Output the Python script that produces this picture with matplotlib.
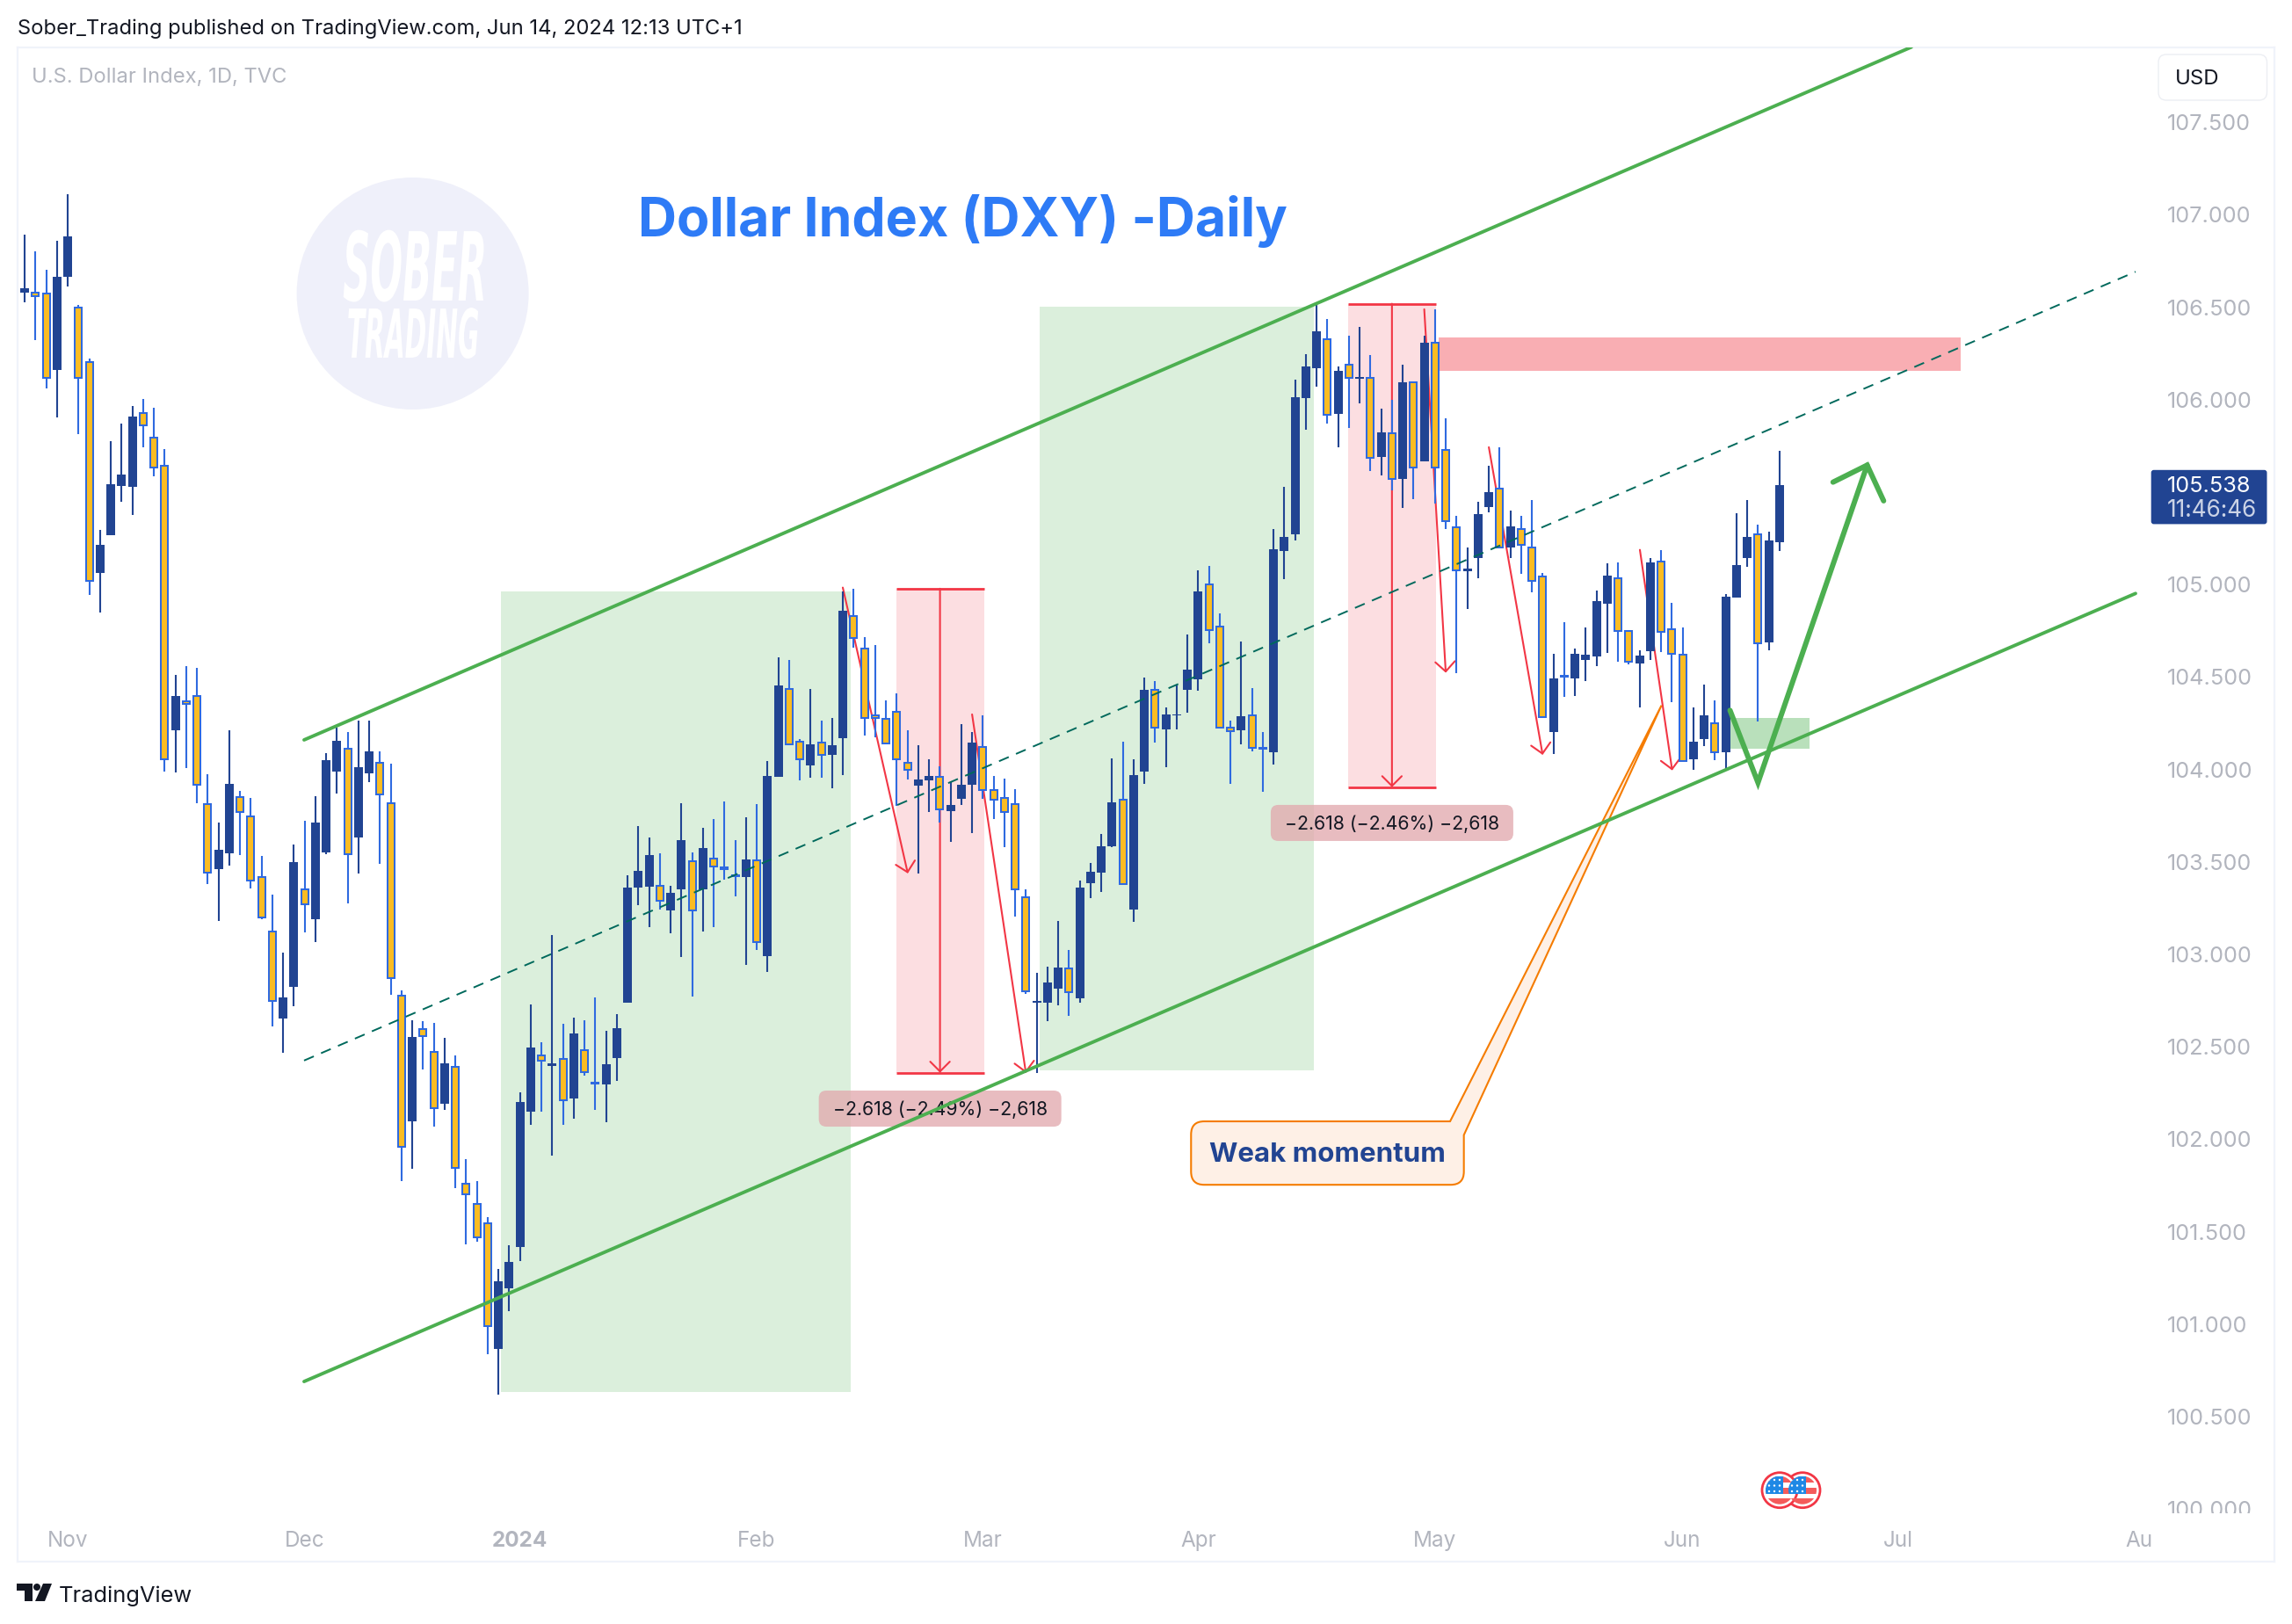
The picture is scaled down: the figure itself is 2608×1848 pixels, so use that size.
import matplotlib
matplotlib.use('Agg')
import matplotlib.pyplot as plt
from matplotlib.patches import Circle, FancyBboxPatch, PathPatch, Polygon, Rectangle
from matplotlib.patheffects import AbstractPathEffect
from matplotlib.path import Path
from matplotlib.transforms import Affine2D, Bbox

W, H = 2608, 1848

opens = [106.578, 106.581, 106.575, 106.160, 106.666, 106.499, 106.202, 105.062, 105.269, 105.532,
         105.529, 105.929, 105.796, 105.644, 104.214, 104.368, 104.396, 103.814, 103.462, 103.547,
         103.853, 103.747, 103.417, 103.126, 102.653, 102.825, 103.353, 103.189, 103.553, 103.990,
         104.114, 103.632, 103.980, 104.035, 103.820, 102.776, 102.098, 102.595, 102.471, 102.194,
         102.393, 101.761, 101.649, 101.545, 100.865, 101.194, 101.419, 102.150, 102.454, 102.395,
         102.436, 102.220, 102.481, 102.306, 102.297, 102.438, 102.738, 103.361, 103.366, 103.371,
         103.239, 103.352, 103.505, 103.352, 103.516, 103.471, 103.430, 103.418, 103.509, 102.993,
         103.961, 104.434, 104.149, 104.023, 104.145, 104.080, 104.170, 104.830, 104.655, 104.295,
         104.275, 104.314, 104.034, 103.914, 103.942, 103.962, 103.774, 103.841, 103.918, 104.123,
         103.887, 103.847, 103.814, 103.310, 102.740, 102.740, 102.815, 102.925, 102.764, 103.386,
         103.443, 103.585, 103.837, 103.242, 103.989, 104.429, 104.218, 104.295, 104.430, 104.486,
         105.002, 104.771, 104.226, 104.210, 104.291, 104.119, 104.094, 105.181, 105.272, 106.009,
         106.170, 106.326, 105.924, 106.190, 106.115, 106.119, 105.692, 105.820, 105.571, 106.092,
         105.666, 106.310, 105.729, 105.311, 105.073, 105.142, 105.420, 105.520, 105.201, 105.302,
         105.201, 105.045, 104.202, 104.506, 104.494, 104.592, 104.612, 104.898, 105.032, 104.747,
         104.574, 104.640, 105.127, 104.761, 104.623, 104.053, 104.165, 104.252, 104.091, 104.930,
         105.144, 105.274, 104.688, 105.230]
highs = [106.893, 106.802, 106.702, 106.860, 107.111, 106.514, 106.223, 105.296, 105.775, 105.872,
         105.966, 106.005, 105.957, 105.732, 104.511, 104.559, 104.550, 103.974, 103.714, 104.214,
         103.883, 103.847, 103.532, 103.323, 103.011, 103.595, 103.723, 103.856, 104.090, 104.226,
         104.202, 104.265, 104.265, 104.098, 104.032, 102.804, 102.644, 102.639, 102.630, 102.550,
         102.454, 101.895, 101.772, 101.579, 101.299, 101.426, 102.254, 102.729, 102.527, 103.105,
         102.625, 102.657, 102.643, 102.768, 102.588, 102.677, 103.427, 103.694, 103.632, 103.548,
         103.371, 103.819, 103.550, 103.684, 103.732, 103.828, 103.618, 103.741, 103.814, 104.046,
         104.607, 104.593, 104.165, 104.436, 104.265, 104.279, 104.963, 104.978, 104.714, 104.673,
         104.373, 104.411, 104.212, 104.131, 104.056, 104.017, 103.934, 104.245, 104.204, 104.293,
         103.966, 103.952, 103.895, 103.353, 102.902, 102.933, 103.181, 103.024, 103.398, 103.495,
         103.652, 104.060, 104.151, 104.056, 104.498, 104.478, 104.336, 104.454, 104.730, 105.077,
         105.101, 104.842, 104.265, 104.692, 104.440, 104.204, 105.302, 105.530, 106.109, 106.247,
         106.513, 106.436, 106.178, 106.346, 106.395, 106.241, 105.952, 106.001, 106.190, 106.096,
         106.346, 106.490, 105.900, 105.371, 105.201, 105.449, 105.642, 105.743, 105.400, 105.371,
         105.455, 105.061, 104.626, 104.795, 104.652, 104.770, 104.967, 105.116, 105.120, 104.755,
         104.645, 105.144, 105.187, 104.902, 104.769, 104.336, 104.460, 104.374, 104.949, 105.387,
         105.458, 105.325, 105.287, 105.724]
lows = [106.527, 106.323, 106.063, 105.905, 106.611, 105.814, 104.944, 104.850, 105.269, 105.447,
        105.378, 105.741, 105.587, 103.989, 103.983, 104.008, 103.817, 103.380, 103.180, 103.480,
        103.538, 103.356, 103.189, 102.611, 102.468, 102.720, 103.120, 103.068, 103.544, 103.871,
        103.277, 103.438, 103.932, 103.489, 102.783, 101.775, 101.841, 102.378, 102.069, 102.160,
        101.738, 101.431, 101.447, 100.837, 100.621, 101.069, 101.340, 102.079, 102.150, 101.911,
        102.079, 102.111, 102.345, 102.159, 102.093, 102.315, 102.738, 103.266, 103.148, 103.241,
        103.114, 102.986, 102.773, 103.123, 103.148, 103.405, 103.314, 102.943, 103.025, 102.904,
        103.961, 104.138, 103.942, 103.956, 103.956, 103.899, 103.970, 104.661, 104.184, 104.172,
        104.141, 103.802, 103.946, 103.438, 103.771, 103.713, 103.609, 103.808, 103.656, 103.841,
        103.733, 103.581, 103.205, 102.787, 102.360, 102.640, 102.724, 102.667, 102.740, 103.306,
        103.339, 103.581, 103.379, 103.176, 103.922, 104.147, 104.013, 104.218, 104.308, 104.427,
        104.685, 104.226, 103.920, 104.137, 104.100, 103.881, 104.027, 105.030, 105.239, 105.837,
        106.072, 105.871, 105.743, 105.847, 105.981, 105.615, 105.591, 105.508, 105.416, 105.463,
        105.666, 105.436, 105.302, 104.523, 104.868, 105.036, 105.392, 105.203, 105.144, 105.059,
        104.959, 104.283, 104.084, 104.393, 104.399, 104.478, 104.561, 104.628, 104.583, 104.569,
        104.336, 104.593, 104.636, 104.365, 104.045, 103.996, 104.127, 104.051, 104.004, 104.930,
        105.097, 104.262, 104.645, 105.182]
closes = [106.602, 106.560, 106.120, 106.666, 106.884, 106.120, 105.020, 105.214, 105.544, 105.596,
          105.908, 105.860, 105.632, 104.053, 104.399, 104.356, 103.917, 103.441, 103.565, 103.923,
          103.768, 103.401, 103.198, 102.747, 102.765, 103.498, 103.271, 103.714, 104.050, 104.156,
          103.541, 104.014, 104.098, 103.865, 102.871, 101.958, 102.554, 102.560, 102.167, 102.411,
          101.845, 101.701, 101.470, 100.990, 101.231, 101.335, 102.202, 102.497, 102.425, 102.413,
          102.209, 102.572, 102.361, 102.302, 102.404, 102.602, 103.361, 103.452, 103.537, 103.289,
          103.332, 103.618, 103.236, 103.575, 103.475, 103.462, 103.421, 103.514, 103.066, 103.966,
          104.455, 104.138, 104.053, 104.137, 104.081, 104.132, 104.859, 104.710, 104.279, 104.279,
          104.141, 104.054, 103.997, 103.946, 103.966, 103.782, 103.808, 103.918, 104.147, 103.889,
          103.836, 103.771, 103.351, 102.799, 102.748, 102.850, 102.927, 102.795, 103.363, 103.447,
          103.585, 103.824, 103.379, 103.970, 104.430, 104.226, 104.298, 104.300, 104.541, 104.964,
          104.753, 104.226, 104.206, 104.289, 104.119, 104.111, 105.189, 105.258, 106.015, 106.180,
          106.369, 105.918, 106.157, 106.117, 106.121, 105.686, 105.824, 105.571, 106.096, 105.633,
          106.308, 105.633, 105.343, 105.077, 105.085, 105.380, 105.499, 105.203, 105.315, 105.217,
          105.020, 104.283, 104.494, 104.500, 104.626, 104.622, 104.912, 105.050, 104.748, 104.582,
          104.617, 105.120, 104.744, 104.625, 104.045, 104.149, 104.294, 104.092, 104.935, 105.106,
          105.258, 104.685, 105.239, 105.538]

price_ticks = [100.0, 100.5, 101.0, 101.5, 102.0, 102.5, 103.0, 103.5, 104.0, 104.5, 105.0,
               106.0, 106.5, 107.0, 107.5]
month_pos = [4, 26, 46, 68, 89, 109, 131, 154, 174, 197]
month_labels = ['Nov', 'Dec', '2024', 'Feb', 'Mar', 'Apr', 'May', 'Jun', 'Jul', 'Aug']

# drawings on the chart, (bar, price)
channel_top = [(25.95, 104.160), (175.25, 107.907)]
channel_mid = [(25.95, 102.426), (196.07, 106.692)]
channel_low = [(25.95, 100.690), (196.07, 104.952)]
red_arrows = [((75.99, 104.984), (82.03, 103.438)), ((88.0, 104.298), (93.0, 102.358)),
              ((130.0, 106.489), (132.0, 104.523)), ((136.0, 105.743), (141.0, 104.079)),
              ((150.03, 105.188), (153.03, 103.995))]
move_path = [(158.4, 104.32), (161.0, 103.929), (171.14, 105.646)]
move_head = [(167.97, 105.554), (171.14, 105.646), (172.67, 105.453)]

UP = '#214492'
DOWN = '#fbbc22'
DOWN_EDGE = '#2f6ae0'
GREY = '#b2b5be'
RED = '#f23645'
GREEN = '#4caf50'

plt.rcParams['font.family'] = ['Inter', 'DejaVu Sans']


class Stretch(AbstractPathEffect):
    """Stretch a text around a pixel point, the logo letters are tall and narrow."""
    def __init__(self, sx, sy, cx, cy):
        super().__init__()
        self.sx, self.sy = sx, sy
        self.cx, self.cy = cx, cy

    def draw_path(self, renderer, gc, tpath, affine, rgbFace=None):
        st = Affine2D().translate(-self.cx, -self.cy).scale(self.sx, self.sy).translate(self.cx, self.cy)
        renderer.draw_path(gc, tpath, affine + st, rgbFace)


fig = plt.figure(figsize=(W / 100, H / 100), dpi=100, facecolor='white')
ax = fig.add_axes([20 / W, 1 - 1777 / H, 2568 / W, 1723 / H])
ax.set_xlim(-0.661, 208.97)
ax.set_ylim(99.716, 107.905)
pix = Affine2D().scale(1, -1).translate(0, H)

for s in ax.spines.values():
    s.set_color('#f0f3fa')
    s.set_linewidth(1.6)

# price and time scale
ax.yaxis.tick_right()
ax.set_yticks(price_ticks, ['%.3f' % p for p in price_ticks])
ax.tick_params(axis='y', length=0, pad=-88, labelsize=18.2, labelcolor=GREY)
ax.set_xticks(month_pos, month_labels)
ax.tick_params(axis='x', length=0, pad=-25.5, labelsize=17.5, labelcolor=GREY)
ax.get_xticklabels()[2].set_fontweight('bold')
for lab in ax.get_yticklabels():
    if lab.get_text() == '100.000':
        lab.set_clip_box(Bbox([[0, H - 1722], [W, H]]))
        lab.set_clip_on(True)
aug = ax.get_xticklabels()[-1]
aug.set_clip_box(Bbox([[0, 0], [2448.5, H]]))
aug.set_clip_on(True)

# zones under the candles
for x0, x1, p0, p1 in [(44.24, 76.73, 100.633, 104.963), (94.28, 119.75, 102.375, 106.503)]:
    ax.add_patch(Rectangle((x0, p0), x1 - x0, p1 - p0, fc=GREEN, alpha=0.2, ec='none', zorder=1))
for x0, x1, p0, p1, xm in [(80.94, 89.10, 102.36, 104.978, 85.02), (122.96, 131.1, 103.904, 106.519, 127.0)]:
    ax.add_patch(Rectangle((x0, p0), x1 - x0, p1 - p0, fc=RED, alpha=0.16, ec='none', zorder=1))
    ax.hlines([p0, p1], x0, x1, color=RED, lw=2, zorder=2)
    ax.annotate('', xy=(xm, p0), xytext=(xm, p1), zorder=2,
                arrowprops=dict(arrowstyle='->,head_length=0.8,head_width=0.8', color=RED, lw=1.5,
                                shrinkA=0, shrinkB=0, mutation_scale=10))
ax.add_patch(Rectangle((131.3, 106.158), 48.5, 0.18, fc='#f9aeb3', ec='none', zorder=1))
ax.add_patch(Rectangle((158.3, 104.11), 7.5, 0.17, fc='#b9e0bb', ec='none', zorder=1))

for start, tip in red_arrows:
    ax.annotate('', xy=tip, xytext=start, zorder=2,
                arrowprops=dict(arrowstyle='->,head_length=0.8,head_width=0.8', color=RED, lw=1.5,
                                shrinkA=0, shrinkB=0, mutation_scale=10))

# candles
for i in range(len(opens)):
    up = closes[i] >= opens[i]
    ax.vlines(i, lows[i], highs[i], color=UP if up else DOWN_EDGE, lw=1.5, zorder=3)
    top, bot = max(opens[i], closes[i]), min(opens[i], closes[i])
    if up:
        ax.bar(i, top - bot, bottom=bot, width=0.82, color=UP, lw=0, zorder=3.1)
    else:
        ax.bar(i, top - bot, bottom=bot, width=0.65, color=DOWN, edgecolor=DOWN_EDGE, lw=1.45, zorder=3.1)

# range labels
for xc, pc, label in [(85.02, 102.166, '\u22122.618 (\u22122.49%) \u22122,618'),
                      (127.0, 103.711, '\u22122.618 (\u22122.46%) \u22122,618')]:
    ax.add_patch(FancyBboxPatch((xc - 11.26, pc - 0.0975), 22.53, 0.195, fc=(226 / 255, 170 / 255, 175 / 255),
                                alpha=0.78, ec='none', boxstyle='round,pad=0,rounding_size=0.7',
                                mutation_aspect=0.0582, zorder=3.4))
    ax.text(xc, pc - 0.005, label, ha='center', va='center', fontsize=15.3, color='#131722', zorder=3.5)

# callout
L, R, T, B = 108.34, 133.68, 102.097, 101.754
rx, ry = 1.22, 0.071
verts = [(L + rx, T), (132.4, T), (152.04, 104.347), (R, 102.023), (R, B + ry), (R, B), (R - rx, B),
         (L + rx, B), (L, B), (L, B + ry), (L, T - ry), (L, T), (L + rx, T), (L + rx, T)]
codes = [Path.MOVETO, Path.LINETO, Path.LINETO, Path.LINETO, Path.LINETO, Path.CURVE3, Path.CURVE3,
         Path.LINETO, Path.CURVE3, Path.CURVE3, Path.LINETO, Path.CURVE3, Path.CURVE3, Path.CLOSEPOLY]
ax.add_patch(PathPatch(Path(verts, codes), fc='#fef0e6', ec='#f57c00', lw=1.5, zorder=3.5))
ax.text(121.0, 101.915, 'Weak momentum', ha='center', va='center', fontsize=22.5, fontweight='bold',
        color=UP, zorder=3.6)

# channel
for line in [channel_top, channel_low]:
    ax.plot(*zip(*line), color=GREEN, lw=2.8, zorder=4, solid_capstyle='round')
ax.plot(*zip(*channel_mid), color='#00695c', lw=1.4, ls=(0, (6.2, 4.6)), zorder=4)
ax.plot(*zip(*move_path), color=GREEN, lw=4.3, zorder=4.1, solid_joinstyle='miter', solid_capstyle='round')
ax.plot(*zip(*move_head), color=GREEN, lw=4.3, zorder=4.1, solid_joinstyle='miter', solid_capstyle='round')

# logo
fig.add_artist(Circle((469.6, 334), 132, fc='#eff0fa', ec='none', transform=pix))
fig.text(472 / W, 1 - 342 / H, 'SOBER', family='DejaVu Sans', style='oblique', fontweight='bold', fontsize=40,
         color='white', ha='center', va='baseline', path_effects=[Stretch(0.78, 1.95, 472, H - 342)])
fig.text(470 / W, 1 - 407 / H, 'TRADING', family='DejaVu Sans', style='oblique', fontweight='bold', fontsize=30,
         color='white', ha='center', va='baseline', path_effects=[Stretch(0.71, 1.84, 470, H - 407)])

# headers
fig.text(20 / W, 1 - 33 / H, 'Sober_Trading published on TradingView.com, Jun 14, 2024 12:13 UTC+1',
         fontsize=17.1, color='#131722', va='center')
fig.text(36 / W, 1 - 88 / H, 'U.S. Dollar Index, 1D, TVC', fontsize=17.1, color=GREY, va='center')
fig.text(1095 / W, 1 - 251 / H, 'Dollar Index (DXY) -Daily', fontsize=43.9, fontweight='bold', color='#2e7bf6',
         ha='center', va='center')

# USD button and last price tag
fig.add_artist(FancyBboxPatch((2456, 62), 123.5, 52, boxstyle='round,pad=0,rounding_size=9', fc='white',
                              ec='#eceef3', lw=1, transform=pix))
fig.text(2475 / W, 1 - 90 / H, 'USD', fontsize=17.2, color='#131722', va='center')
fig.add_artist(FancyBboxPatch((2447.7, 534.8), 131.8, 61.6, boxstyle='round,pad=0,rounding_size=3', fc=UP,
                              ec='none', transform=pix))
fig.text(2466 / W, 1 - 553 / H, '105.538', fontsize=18.2, color='white', va='center')
fig.text(2466 / W, 1 - 581.5 / H, '11:46:46', fontsize=18.8, color='#cbd3e6', va='center')

# TradingView mark
fig.add_artist(Polygon([(19, 1802), (37, 1802), (37, 1822), (28, 1822), (28, 1810), (19, 1810)], fc='#131722',
                       ec='none', transform=pix))
fig.add_artist(Circle((42, 1806), 4, fc='#131722', ec='none', transform=pix))
fig.add_artist(Polygon([(49, 1802), (59, 1802), (51, 1822), (40, 1822)], fc='#131722', ec='none', transform=pix))
fig.text(67 / W, 1 - 1816 / H, 'TradingView', fontsize=18.3, color='#131722', va='center')

# economic event flags
for cx in [2051, 2025]:
    ring = Circle((cx, 1695.7), 20, fc='white', ec=RED, lw=2, transform=pix, zorder=6)
    fig.add_artist(ring)
    inner = Circle((cx, 1695.7), 16, transform=pix)
    parts = [Rectangle((cx - 16, 1695.7 + y0), 32, 7, fc='#f45b5b', ec='none', transform=pix, zorder=7)
             for y0 in (-16, -3, 9)]
    parts.append(Rectangle((cx - 16, 1679.7), 19.5, 20, fc='#1e88e5', ec='none', transform=pix, zorder=8))
    for r in range(3):
        for c in range(3):
            parts.append(Circle((cx - 12 + c * 6, 1684 + r * 6.5), 1.2, fc='white', ec='none', transform=pix, zorder=9))
    for p in parts:
        fig.add_artist(p)
        p.set_clip_path(inner)

fig.savefig('out.png', dpi=100)
